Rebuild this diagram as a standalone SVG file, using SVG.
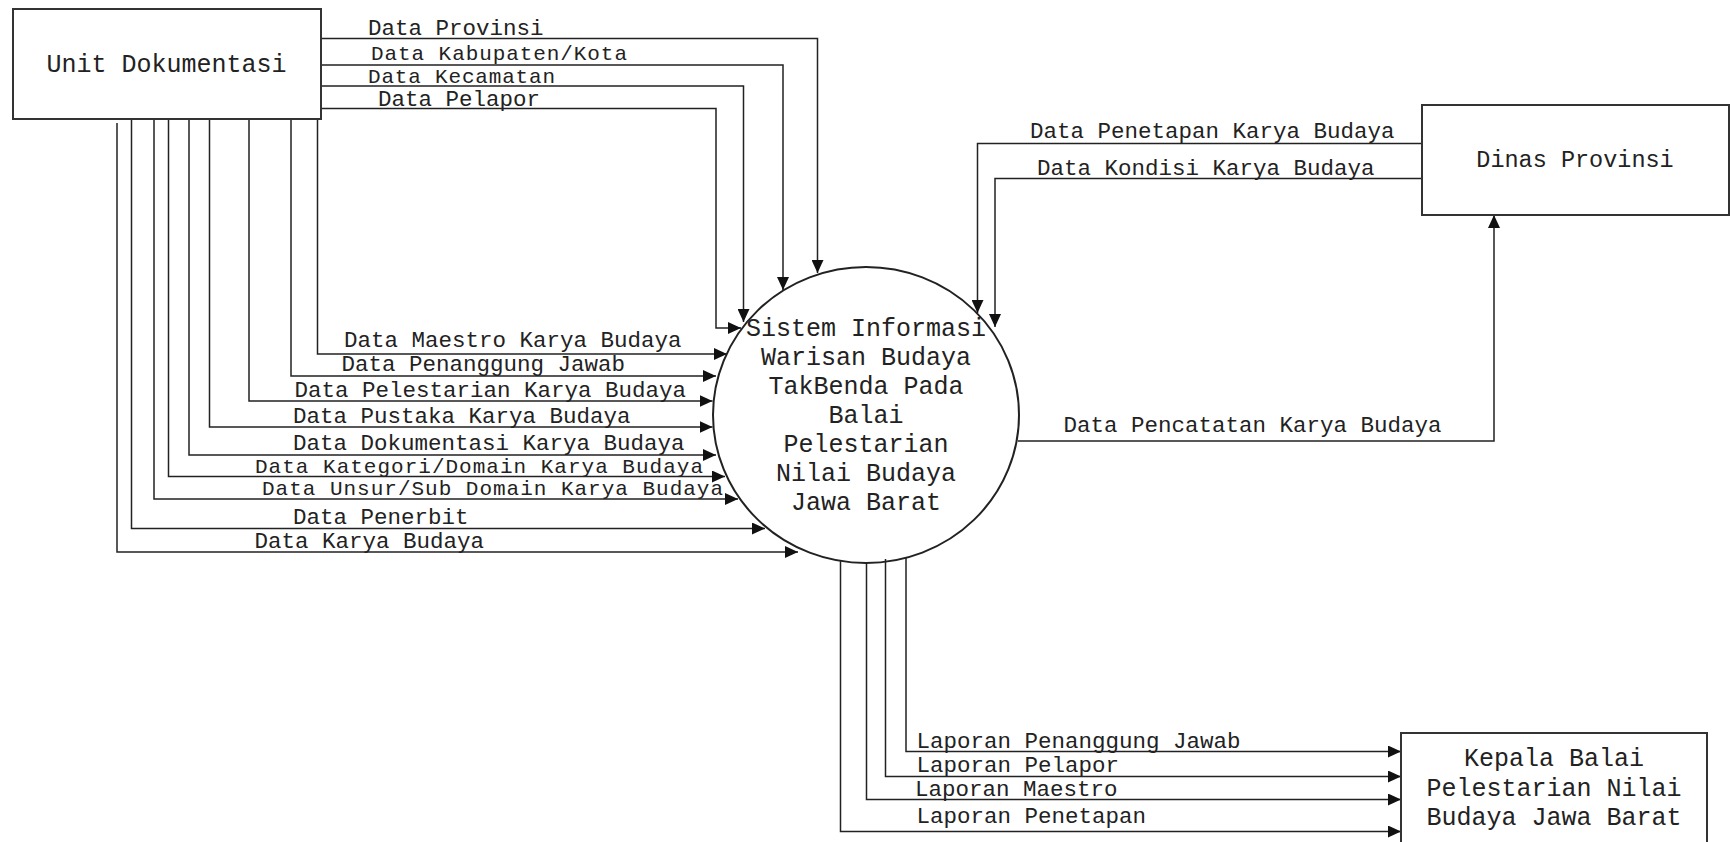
<svg xmlns="http://www.w3.org/2000/svg" width="1731" height="842" viewBox="0 0 1731 842">
<style>
.box{fill:#fff;stroke:#333;stroke-width:2}
.nt{font-family:"Liberation Mono","Courier New",monospace;font-size:25px;fill:#222;text-anchor:middle}
.lb{font-family:"Liberation Mono","Courier New",monospace;font-size:22.5px;fill:#222}
.sm{font-size:21px}
.c{fill:none;stroke:#222;stroke-width:1.5;marker-end:url(#ah)}
</style>
<defs>
<marker id="ah" markerUnits="userSpaceOnUse" markerWidth="13" markerHeight="12" refX="13" refY="6" orient="auto">
<path d="M0,0 L13,6 L0,12 Z" fill="#111"/>
</marker>
</defs>
<rect width="1731" height="842" fill="#fff"/>

<g id="connectors">
<path class="c" d="M321,38.5 H817.5 V273"/>
<path class="c" d="M321,65 H783 V290"/>
<path class="c" d="M321,86 H743.5 V322"/>
<path class="c" d="M321,108.5 H716 V328 H741"/>
<path class="c" d="M317.5,119 V354 H727"/>
<path class="c" d="M291,119 V376 H716"/>
<path class="c" d="M249,119 V401 H712.5"/>
<path class="c" d="M209.5,119 V427 H712.5"/>
<path class="c" d="M189,119 V455 H716"/>
<path class="c" d="M168.5,119 V476.5 H725"/>
<path class="c" d="M154,119 V499 H738"/>
<path class="c" d="M131.5,119 V528.5 H765"/>
<path class="c" d="M117,123 V552 H798"/>
<path class="c" d="M1422,143.5 H977.5 V313"/>
<path class="c" d="M1422,178.5 H995 V327"/>
<path class="c" d="M1018,441 H1494 V215"/>
<path class="c" d="M906,558 V751.5 H1401"/>
<path class="c" d="M885.5,559 V776.5 H1401"/>
<path class="c" d="M866.5,563 V799.5 H1401"/>
<path class="c" d="M840.5,561 V831.5 H1401"/>
<text class="lb" x="368" y="35">Data Provinsi</text>
<text class="lb sm" x="371" y="59.5" textLength="256">Data Kabupaten/Kota</text>
<text class="lb sm" x="368" y="82.5" textLength="187">Data Kecamatan</text>
<text class="lb" x="378" y="106">Data Pelapor</text>
<text class="lb" x="344" y="347">Data Maestro Karya Budaya</text>
<text class="lb" x="341.5" y="371">Data Penanggung Jawab</text>
<text class="lb" x="294.5" y="397">Data Pelestarian Karya Budaya</text>
<text class="lb" x="293" y="422.5">Data Pustaka Karya Budaya</text>
<text class="lb" x="293" y="450">Data Dokumentasi Karya Budaya</text>
<text class="lb sm" x="255" y="472.5" textLength="448">Data Kategori/Domain Karya Budaya</text>
<text class="lb sm" x="262" y="494.5" textLength="461">Data Unsur/Sub Domain Karya Budaya</text>
<text class="lb" x="293" y="524">Data Penerbit</text>
<text class="lb" x="254.5" y="547.5">Data Karya Budaya</text>
<text class="lb" x="1030" y="138">Data Penetapan Karya Budaya</text>
<text class="lb" x="1037" y="175">Data Kondisi Karya Budaya</text>
<text class="lb" x="1063.5" y="432">Data Pencatatan Karya Budaya</text>
<text class="lb" x="916.5" y="748">Laporan Penanggung Jawab</text>
<text class="lb" x="916.5" y="772">Laporan Pelapor</text>
<text class="lb" x="915" y="796">Laporan Maestro</text>
<text class="lb" x="916.5" y="823">Laporan Penetapan</text>
</g>

<g id="unit-dokumentasi">
<rect class="box" x="13" y="9" width="308" height="110"/>
<text class="nt" x="166.5" y="72">Unit Dokumentasi</text>
</g>

<g id="sistem">
<ellipse cx="866" cy="415" rx="153" ry="148" fill="none" stroke="#222" stroke-width="2"/>
<text class="nt" x="866" y="335.5">Sistem Informasi</text>
<text class="nt" x="866" y="364.5">Warisan Budaya</text>
<text class="nt" x="866" y="393.5">TakBenda Pada</text>
<text class="nt" x="866" y="422.5">Balai</text>
<text class="nt" x="866" y="451.5">Pelestarian</text>
<text class="nt" x="866" y="480.5">Nilai Budaya</text>
<text class="nt" x="866" y="509.5">Jawa Barat</text>
</g>

<g id="dinas-provinsi">
<rect class="box" x="1422" y="105" width="307" height="110"/>
<text class="nt" x="1575" y="167" style="font-size:23.5px">Dinas Provinsi</text>
</g>

<g id="kepala-balai">
<rect class="box" x="1401" y="733" width="306" height="120"/>
<text class="nt" x="1554" y="766">Kepala Balai</text>
<text class="nt" x="1554" y="796">Pelestarian Nilai</text>
<text class="nt" x="1554" y="825">Budaya Jawa Barat</text>
</g>
</svg>
